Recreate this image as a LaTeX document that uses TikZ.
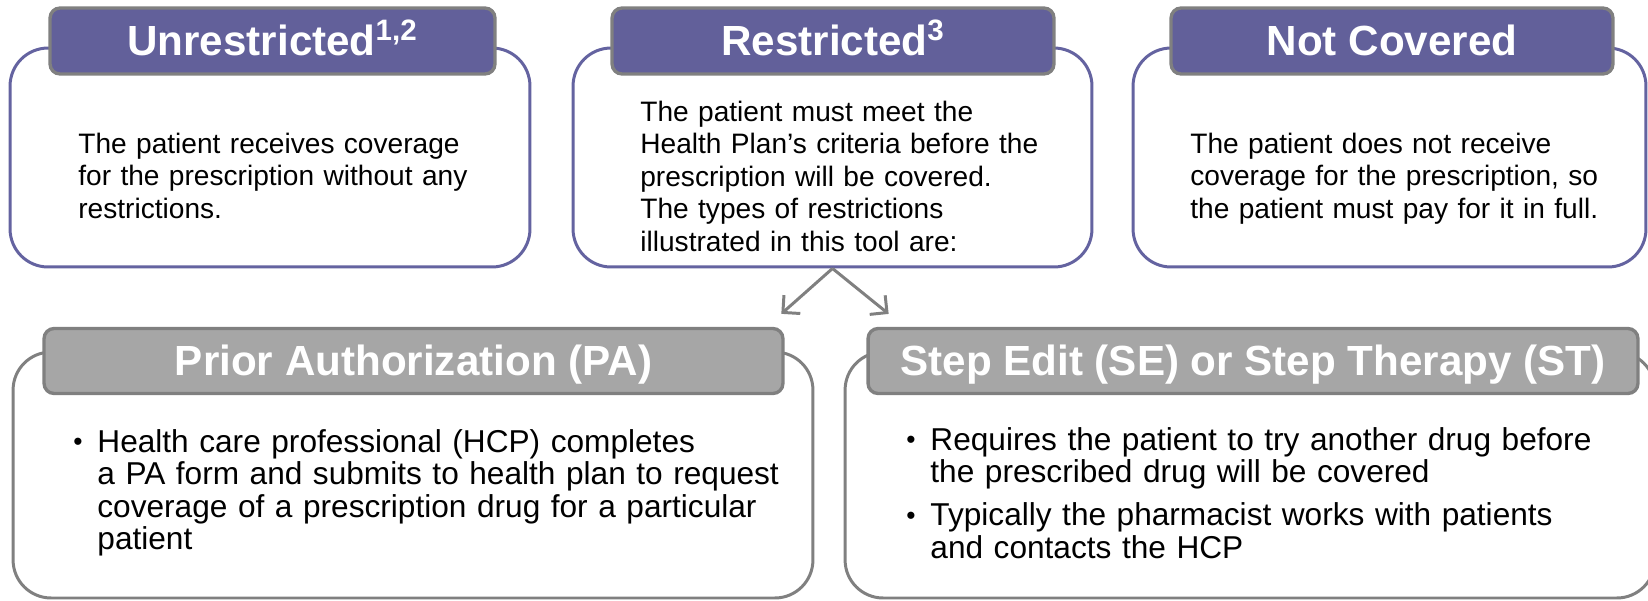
\documentclass[tikz,border=0pt]{standalone}
\usepackage{fontspec}
\setmainfont{Liberation Sans}
\usetikzlibrary{arrows.meta}

\definecolor{roxo}{RGB}{98,96,154}
\definecolor{roxoborda}{RGB}{100,99,160}
\definecolor{cinza}{RGB}{166,166,166}
\definecolor{cinzaborda}{RGB}{128,128,128}

\newlength{\recuo}
\setlength{\recuo}{13.7pt}
\newcommand{\bitem}[1]{\leftskip=\recuo\noindent\hspace*{-\recuo}\makebox[\recuo][l]{\raisebox{0.8pt}{\fontsize{15}{15}\selectfont\textbullet}}#1\par}

\begin{document}
\begin{tikzpicture}[x = 0.02cm, y = -0.02cm, > = {Straight Barb[length=7pt,width=14pt]}, shorten > = 1pt]
        \tikzstyle{caixa}=[draw=roxoborda, line width=1.7pt, rounded corners=0.76cm, inner sep=0pt, fill=white, minimum height=4.38cm]
        \tikzstyle{caixacinza}=[caixa, draw=cinzaborda, minimum height=4.92cm]
        \tikzstyle{titulo}=[draw=cinzaborda, fill=roxo, line width=1.9pt, rounded corners=0.2cm, inner sep=0pt, minimum height=1.32cm, text=white, font=\fontsize{24}{28}\selectfont\bfseries, text height=17pt, text depth=0pt]
        \tikzstyle{titulocinza}=[titulo, fill=cinza, minimum height=1.3cm]
        \tikzstyle{texto}=[anchor=base west, inner sep=0pt, align=left, text width=9cm, font=\fontsize{16}{18.5}\selectfont]
        \tikzstyle{textob}=[texto, text width=16cm, font=\fontsize{18}{18.5}\selectfont]

            \useasboundingbox (0,0) rectangle (1648,600);

                % Caixas
                \node[caixa, minimum width=10.4cm] (unrb) at (270,157.5) {};
                \node[caixa, minimum width=10.38cm] (resb) at (832.5,157.5) {};
                \node[caixa, minimum width=10.26cm] (notb) at (1389.5,157.5) {};
                \node[caixacinza, minimum width=16cm] (pab) at (413,475) {};
                \node[caixacinza, minimum width=16.2cm] (stb) at (1250,475) {};

                % Titulos
                \node[titulo, minimum width=8.9cm] (unrh) at (272.5,41) {Unrestricted\textsuperscript{1,2}};
                \node[titulo, minimum width=8.84cm] (resh) at (833,41) {Restricted\textsuperscript{3}};
                \node[titulo, minimum width=8.84cm] (noth) at (1392,41) {Not Covered};
                \node[titulocinza, minimum width=14.78cm] (pah) at (413.5,361) {Prior Authorization (PA)};
                \node[titulocinza, minimum width=15.4cm] (sth) at (1253,361) {Step Edit (SE) or Step Therapy (ST)};

                % Textos
                \node[texto] (unrt) at (78,153) {The patient receives coverage\\for the prescription without any\\restrictions.};
                \node[texto] (rest) at (640,121) {The patient must meet the\\Health Plan’s criteria before the\\prescription will be covered.\\The types of restrictions\\illustrated in this tool are:};
                \node[texto] (nott) at (1190,153) {The patient does not receive\\coverage for the prescription, so\\the patient must pay for it in full.};
                \node[textob] (pat) at (73,452) {\bitem{Health care professional (HCP) completes\\a PA form and submits to health plan to request\\coverage of a prescription drug for a particular\\patient}};
                \node[textob] (stt) at (906,450) {\bitem{Requires the patient to try another drug before\\the prescribed drug will be covered}\vspace{6pt}\bitem{Typically the pharmacist works with patients\\and contacts the HCP}};

                % Setas
                \coordinate (patip) at (780,315);
                \coordinate (sttip) at (890,315);
                \draw[->, draw=cinzaborda, line width=1.7pt] (resb.south) -- (patip);
                \draw[->, draw=cinzaborda, line width=1.7pt] (resb.south) -- (sttip);
\end{tikzpicture}
\end{document}
